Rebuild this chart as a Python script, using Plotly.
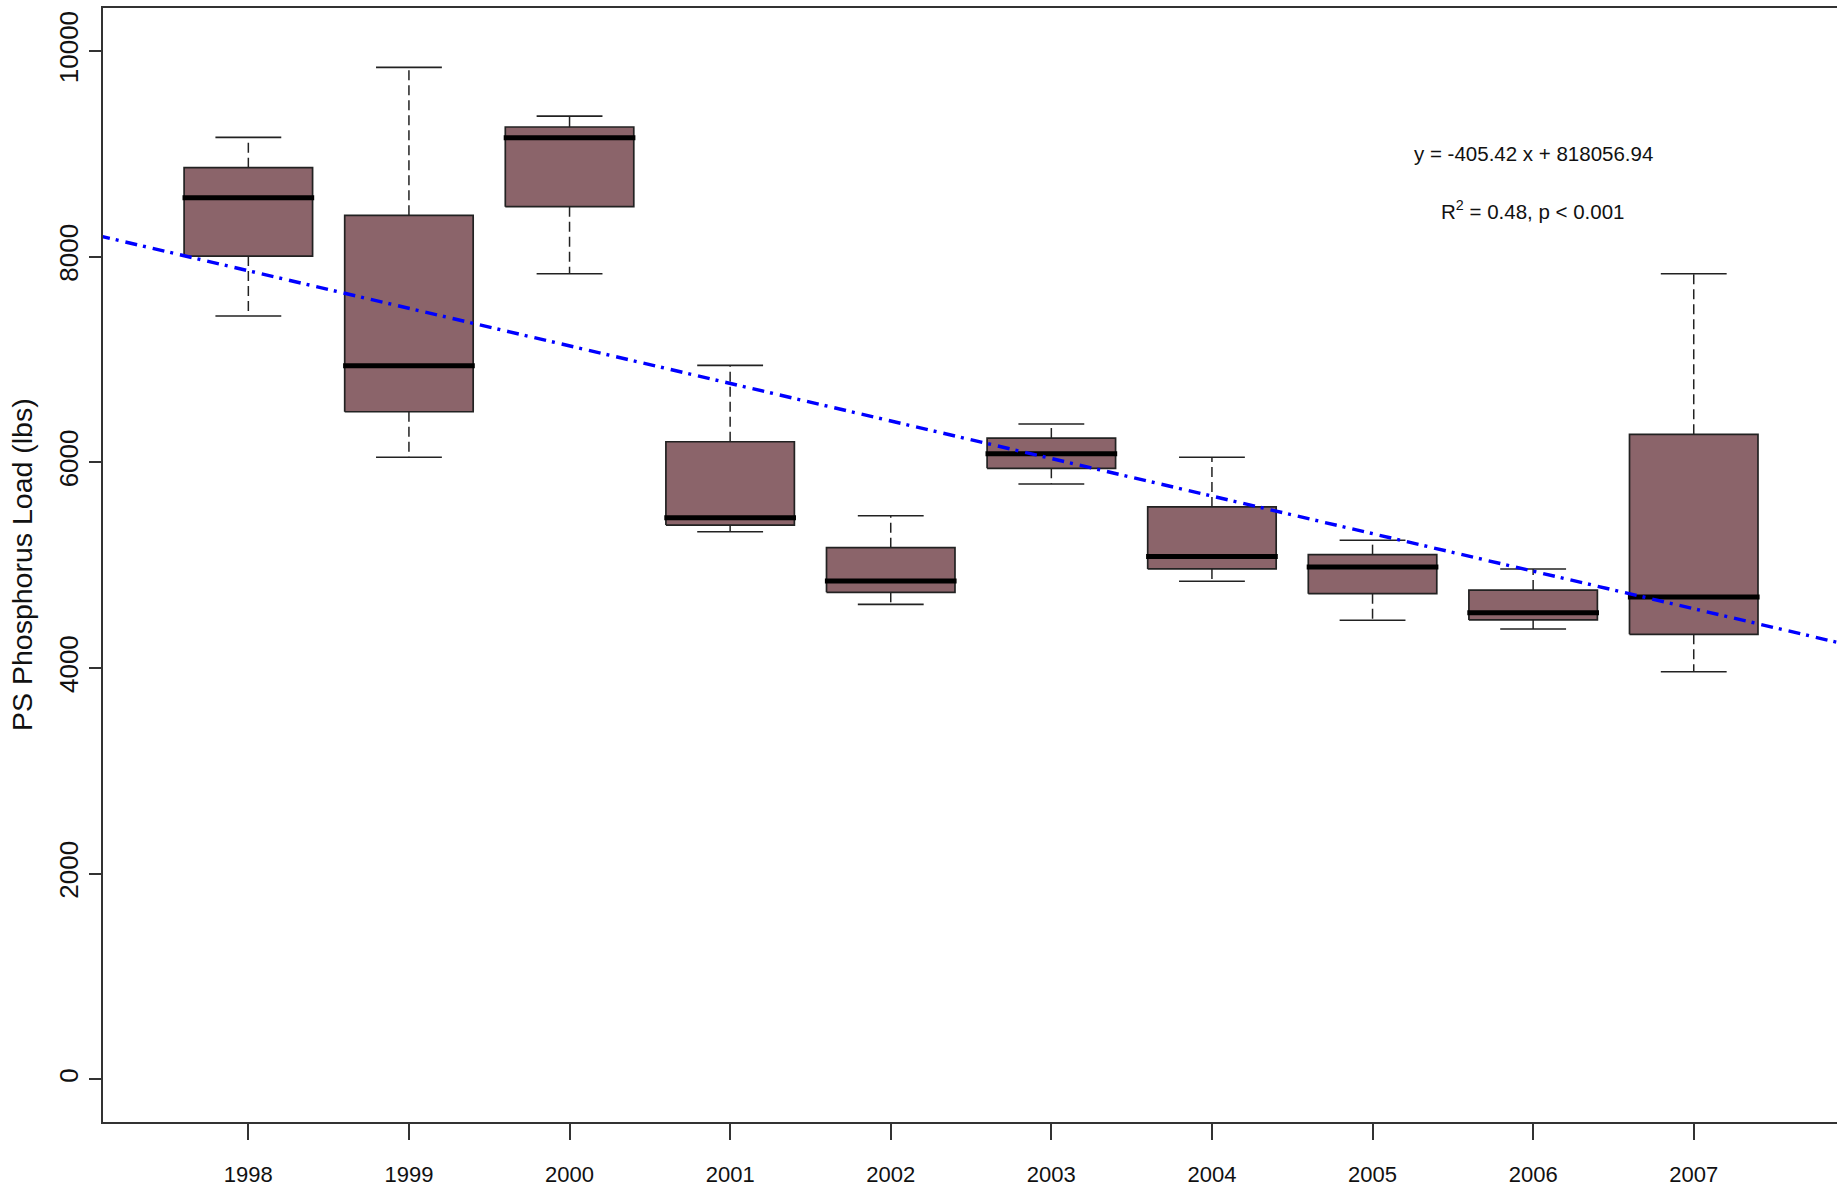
import plotly.graph_objects as go

# Annual point-source phosphorus load summaries (lbs)
years = [1998, 1999, 2000, 2001, 2002, 2003, 2004, 2005, 2006, 2007]
upper_whisker = [9160, 9841, 9367, 6943, 5481, 6373, 6049, 5242, 4963, 7834]
q3 = [8865, 8402, 9261, 6200, 5170, 6236, 5566, 5102, 4758, 6272]
median = [8573, 6940, 9157, 5461, 4846, 6084, 5083, 4982, 4538, 4690]
q1 = [8006, 6492, 8486, 5390, 4736, 5942, 4963, 4723, 4467, 4327]
lower_whisker = [7423, 6049, 7834, 5325, 4619, 5789, 4843, 4464, 4379, 3964]

# Fitted trend as drawn across the boxes
trend_years = [1998, 2007]
trend_values = [7863, 4576]

y_ticks = [0, 2000, 4000, 6000, 8000, 10000]
eq_line1 = "y = -405.42 x + 818056.94"
eq_line2 = "R<sup>2</sup> = 0.48, p &lt; 0.001"

X_RANGE = [1997.095, 2007.892]
Y_RANGE = [-415, 10418]
BOX_HALF = 0.4
CAP_HALF = 0.205
BOX_FILL = "#8B646A"
INK = "#222222"
AXIS = "#333333"
FONT = "Liberation Sans, Arial, Helvetica, sans-serif"

fig = go.Figure()

for yr, lo, a, m, b, hi in zip(years, lower_whisker, q1, median, q3, upper_whisker):
    # dashed whiskers
    fig.add_trace(go.Scatter(
        x=[yr, yr, None, yr, yr], y=[b, hi, None, a, lo], mode="lines",
        line=dict(color=INK, width=1.5, dash="10px,5px"),
        hoverinfo="skip", showlegend=False))
    # whisker caps
    fig.add_trace(go.Scatter(
        x=[yr - CAP_HALF, yr + CAP_HALF, None, yr - CAP_HALF, yr + CAP_HALF],
        y=[hi, hi, None, lo, lo], mode="lines",
        line=dict(color=INK, width=1.6),
        hoverinfo="skip", showlegend=False))
    # interquartile box
    fig.add_trace(go.Scatter(
        x=[yr - BOX_HALF, yr + BOX_HALF, yr + BOX_HALF, yr - BOX_HALF, yr - BOX_HALF],
        y=[a, a, b, b, a], mode="lines", fill="toself", fillcolor=BOX_FILL,
        line=dict(color=INK, width=1.7),
        hoverinfo="skip", showlegend=False))
    # median bar
    fig.add_trace(go.Scatter(
        x=[yr - BOX_HALF - 0.01, yr + BOX_HALF + 0.01], y=[m, m], mode="lines",
        line=dict(color="#000000", width=5),
        hoverinfo="skip", showlegend=False))

# trend line extended across the full plotting range
slope = (trend_values[1] - trend_values[0]) / (trend_years[1] - trend_years[0])
tx = [X_RANGE[0] - 0.2, X_RANGE[1] + 0.2]
ty = [trend_values[0] + slope * (x - trend_years[0]) for x in tx]
fig.add_trace(go.Scatter(
    x=tx, y=ty, mode="lines",
    line=dict(color="#0000FF", width=3.4, dash="12px,6px,3px,7px"),
    hoverinfo="skip", showlegend=False))

fig.add_annotation(x=2006, y=9000, xref="x", yref="y", text=eq_line1,
                   showarrow=False, xanchor="center", yanchor="middle",
                   font=dict(family=FONT, size=20.5, color="#111111"))
fig.add_annotation(x=2006, y=8450, xref="x", yref="y", text=eq_line2,
                   showarrow=False, xanchor="center", yanchor="middle",
                   font=dict(family=FONT, size=20.5, color="#111111"))

fig.add_annotation(x=0, y=0.5, xref="paper", yref="paper", xshift=-81,
                   text="PS Phosphorus Load (lbs)", textangle=-90,
                   showarrow=False, xanchor="center", yanchor="middle",
                   font=dict(family=FONT, size=28.5, color="#111111"))

fig.update_layout(
    width=1837, height=1187,
    margin=dict(l=103, r=0, t=8, b=65, pad=0),
    paper_bgcolor="white", plot_bgcolor="white",
    showlegend=False,
    xaxis=dict(
        range=X_RANGE, tickmode="array", tickvals=years,
        ticktext=[str(y) for y in years], automargin=False,
        ticks="outside", ticklen=16, tickwidth=1.5, tickcolor=AXIS,
        showline=True, linecolor=AXIS, linewidth=1.6, mirror=True,
        showgrid=False, zeroline=False, ticklabelstandoff=16,
        tickfont=dict(family=FONT, size=22, color="#111111")),
    yaxis=dict(
        range=Y_RANGE, tickmode="array", tickvals=y_ticks,
        ticktext=[str(v) for v in y_ticks], tickangle=-90, automargin=False,
        ticks="outside", ticklen=12, tickwidth=1.5, tickcolor=AXIS,
        showline=True, linecolor=AXIS, linewidth=1.6, mirror=False,
        showgrid=False, zeroline=False, ticklabelstandoff=1,
        tickfont=dict(family=FONT, size=26, color="#111111")),
)

fig.write_html("out.html")
